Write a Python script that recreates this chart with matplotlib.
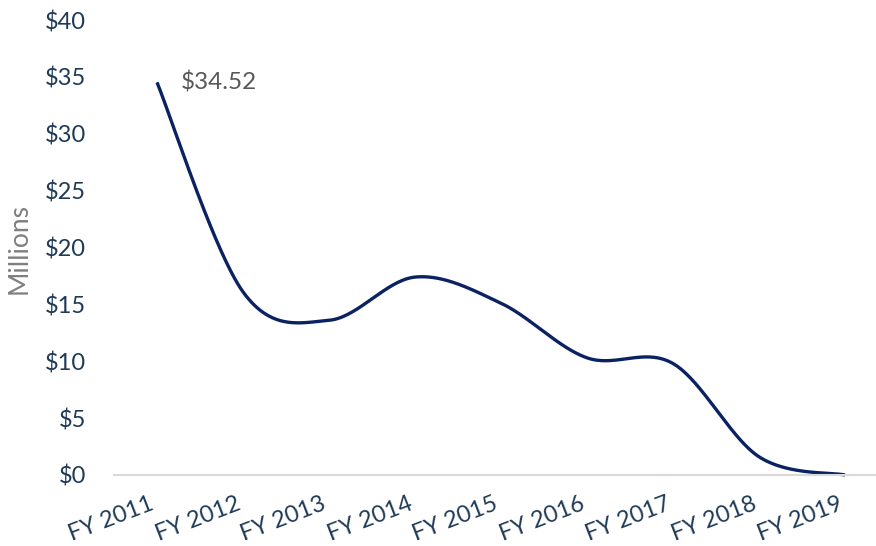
import numpy as np
import matplotlib
matplotlib.use("Agg")
import matplotlib.pyplot as plt

categories = ["FY 2011", "FY 2012", "FY 2013", "FY 2014", "FY 2015",
              "FY 2016", "FY 2017", "FY 2018", "FY 2019"]
values = [34.52, 16.1, 13.6, 17.4, 15.1, 10.3, 9.8, 1.6, 0.0]
yticks = [0, 5, 10, 15, 20, 25, 30, 35, 40]
ytick_labels = ["$0", "$5", "$10", "$15", "$20", "$25", "$30", "$35", "$40"]
annotation_text = "$34.52"

plt.rcParams['font.family'] = ['Lato', 'DejaVu Sans']

def smooth(xs, ys, n=60):
    pts = np.column_stack([xs, ys]).astype(float)
    out = []
    m = len(pts)
    for i in range(m - 1):
        p0 = pts[i - 1] if i > 0 else pts[i]
        p1 = pts[i]
        p2 = pts[i + 1]
        p3 = pts[i + 2] if i + 2 < m else pts[i + 1]
        c1 = p1 + (p2 - p0) / 6.0
        c2 = p2 - (p3 - p1) / 6.0
        t = np.linspace(0, 1, n)[:, None]
        seg = ((1 - t) ** 3) * p1 + 3 * ((1 - t) ** 2) * t * c1 + 3 * (1 - t) * t ** 2 * c2 + t ** 3 * p2
        if i > 0:
            seg = seg[1:]
        out.append(seg)
    out = np.vstack(out)
    return out[:, 0], out[:, 1]

fig = plt.figure(figsize=(8.76, 5.46), dpi=100)
ax = fig.add_axes([114 / 876, 1 - 475 / 546, 1 - 114 / 876, (475 - 20) / 546])

x = np.arange(len(categories))
sx, sy = smooth(x, values)
ax.plot(sx, sy, color="#0b2262", lw=2.4, solid_capstyle="butt", clip_on=False)

ax.set_xlim(-0.5, 8.36)
ax.set_ylim(0, 40)
ax.set_yticks(yticks)
ax.set_yticklabels(ytick_labels)
ax.set_xticks(x)
ax.set_xticklabels(categories, rotation=21, ha="right", va="top", rotation_mode="default")

for s in ["top", "right", "left"]:
    ax.spines[s].set_visible(False)
ax.spines["bottom"].set_color("#d9d9d9")
ax.spines["bottom"].set_linewidth(1.5)

ax.tick_params(axis="y", length=0, pad=20, labelsize=17, labelcolor="#1f3a56")
ax.tick_params(axis="x", length=0, pad=13, labelsize=17, labelcolor="#1f3a56")

ax.set_ylabel("Millions", fontsize=19, color="#7f7f7f")
ax.yaxis.set_label_coords(-82 / 762, (475 - 248) / 455)

ax.annotate(annotation_text, xy=(x[0], values[0]), xytext=(24, 0),
            textcoords="offset pixels", fontsize=17.5, color="#595959",
            ha="left", va="center")

fig.savefig("out.png", dpi=100)
